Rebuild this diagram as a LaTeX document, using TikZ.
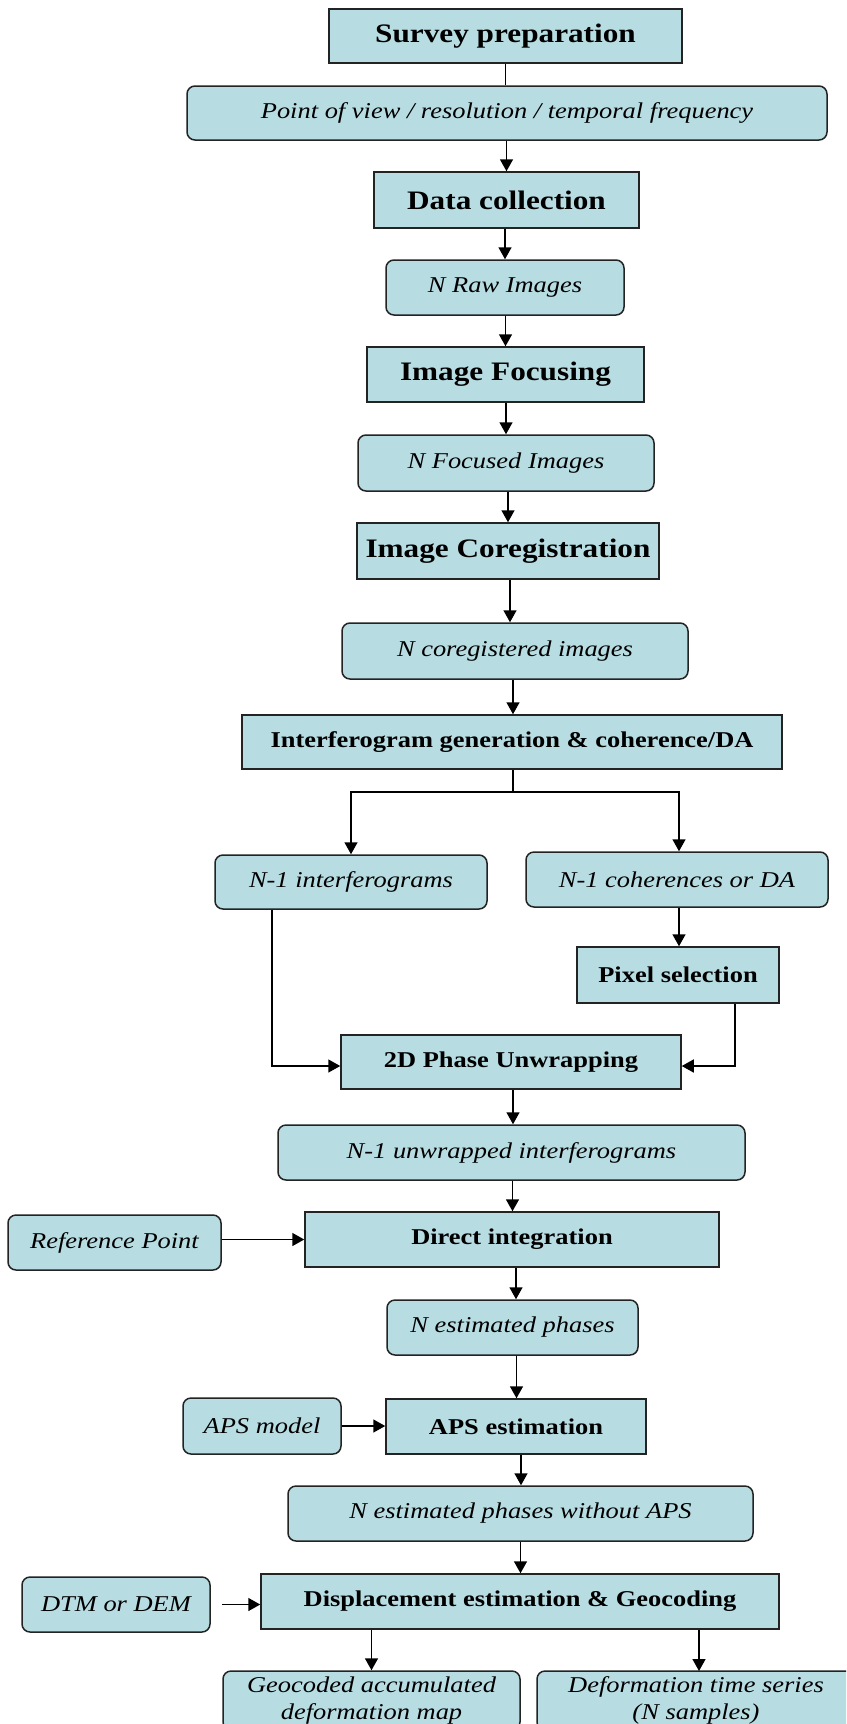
\documentclass[tikz,border=0pt]{standalone}
\usepackage{fontspec}
\setmainfont{Liberation Serif}[FakeStretch=1.17]
\usetikzlibrary{arrows.meta}
\definecolor{boxfill}{RGB}{183,221,227}
\definecolor{boxline}{RGB}{35,35,35}
\begin{document}
\begin{tikzpicture}[x=1pt,y=-1pt,
  proc/.style={draw=boxline, fill=boxfill, line width=1.5pt, inner sep=0pt, align=center,
    font=\fontsize{22.6}{27}\selectfont\bfseries},
  procbig/.style={proc, font=\fontsize{26.7}{30}\selectfont\bfseries},
  datab/.style={proc, rounded corners=8pt, font=\fontsize{22.6}{27}\selectfont\itshape},
  arr/.style={line width=1.5pt, draw=black, -{Triangle[length=12pt,width=13pt]}},
  ln/.style={line width=1.5pt, draw=black}]
\clip (0,0) rectangle (846,1724);
\fill[white] (0,0) rectangle (846,1724);

\node[procbig, minimum width=353pt, minimum height=54pt] (survey) at (505.5,36) {Survey preparation};
\node[datab, minimum width=640pt, minimum height=54pt] (pov) at (507,113) {Point of view / resolution / temporal frequency};
\node[procbig, minimum width=265pt, minimum height=56pt] (data) at (506.5,200) {Data collection};
\node[datab, minimum width=238pt, minimum height=55pt] (raw) at (505,287.5) {N Raw Images};
\node[procbig, minimum width=277pt, minimum height=55pt] (focus) at (505.5,374.5) {Image Focusing};
\node[datab, minimum width=296pt, minimum height=56pt] (focused) at (506,463) {N Focused Images};
\node[procbig, minimum width=302pt, minimum height=56pt] (coreg) at (508,551) {Image Coregistration};
\node[datab, minimum width=346pt, minimum height=56pt] (coregd) at (515,651) {N coregistered images};
\node[proc, minimum width=540pt, minimum height=54pt] (interf) at (512,742) {Interferogram generation \& coherence/DA};
\node[datab, minimum width=272pt, minimum height=54pt] (int1) at (351,882) {N-1 interferograms};
\node[datab, minimum width=302pt, minimum height=55pt] (coh) at (677,879.5) {N-1 coherences or DA};
\node[proc, minimum width=202pt, minimum height=56pt] (pixel) at (678,975) {Pixel selection};
\node[proc, minimum width=340pt, minimum height=54pt] (unwrap) at (511,1062) {2D Phase Unwrapping};
\node[datab, minimum width=467pt, minimum height=55pt] (unw) at (511.5,1152.5) {N-1 unwrapped interferograms};
\node[datab, minimum width=213pt, minimum height=55pt] (refpt) at (114.5,1242.5) {Reference Point};
\node[proc, minimum width=414pt, minimum height=55pt] (direct) at (512,1239.5) {Direct integration};
\node[datab, minimum width=251pt, minimum height=55pt] (nest) at (512.5,1327.5) {N estimated phases};
\node[datab, minimum width=158pt, minimum height=56pt] (apsm) at (262,1426) {APS model};
\node[proc, minimum width=260pt, minimum height=55pt] (apse) at (516,1426.5) {APS estimation};
\node[datab, minimum width=465pt, minimum height=55pt] (nwo) at (520.5,1513.5) {N estimated phases without APS};
\node[datab, minimum width=188pt, minimum height=55pt] (dtm) at (116,1604.5) {DTM or DEM};
\node[proc, minimum width=518pt, minimum height=55pt] (disp) at (520,1601.5) {Displacement estimation \& Geocoding};
\node[datab, minimum width=297pt, minimum height=59pt] (geo) at (371.5,1700.5) {Geocoded accumulated\\deformation map};
\node[datab, minimum width=318pt, minimum height=59pt] (defo) at (696,1700.5) {Deformation time series\\(N samples)};

\draw[ln] (survey.south) -- (survey.south |- pov.north);
\draw[arr] (pov.south -| data) -- (data.north);
\draw[arr] (data.south -| raw) -- (raw.north);
\draw[arr] (raw.south -| focus) -- (focus.north);
\draw[arr] (focus.south -| focused) -- (focused.north);
\draw[arr] (focused.south -| coreg) -- (coreg.north);
\draw[arr] ([xshift=2pt]coreg.south) -- ([xshift=2pt]coreg.south |- coregd.north);
\draw[arr] ([xshift=-2pt]coregd.south) -- ([xshift=-2pt]coregd.south |- interf.north);
\coordinate (br) at (513,792);
\draw[ln] (interf.south -| br) -- (br);
\draw[arr] (br) -| (int1.north);
\draw[arr] (br) -| ([xshift=2pt]coh.north);
\draw[arr] ([xshift=2pt]coh.south) -- ([xshift=2pt]coh.south |- pixel.north);
\draw[arr] ([xshift=-79pt]int1.south) |- ([yshift=-4pt]unwrap.west);
\draw[arr] ([xshift=57pt]pixel.south) |- ([yshift=-4pt]unwrap.east);
\draw[arr] ([xshift=2pt]unwrap.south) -- ([xshift=2pt]unwrap.south |- unw.north);
\draw[arr] ([xshift=1pt]unw.south) -- ([xshift=1pt]unw.south |- direct.north);
\draw[arr] (refpt.east |- direct) -- (direct.west);
\draw[arr] ([xshift=4pt]direct.south) -- ([xshift=4pt]direct.south |- nest.north);
\draw[arr] ([xshift=4pt]nest.south) -- ([xshift=4pt]nest.south |- apse.north);
\draw[arr] (apsm.east) -- (apsm.east -| apse.west);
\draw[arr] ([xshift=5pt]apse.south) -- ([xshift=5pt]apse.south |- nwo.north);
\draw[arr] (nwo.south) -- (nwo.south |- disp.north);
\draw[arr, shorten <=11pt] (dtm.east) -- (dtm.east -| disp.west);
\draw[arr] (disp.south -| geo) -- (geo.north);
\coordinate (defotop) at (699,1671);
\draw[arr] (disp.south -| defotop) -- (defotop);
\end{tikzpicture}
\end{document}
